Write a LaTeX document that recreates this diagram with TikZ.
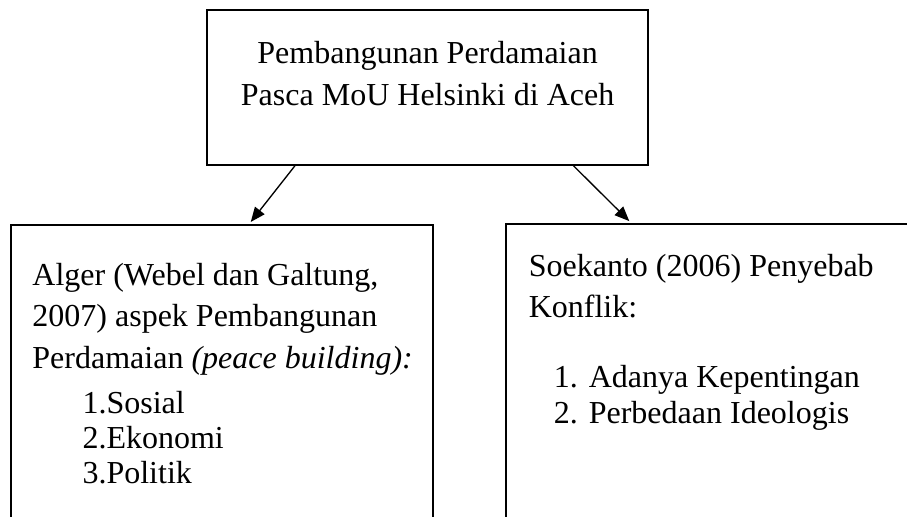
\documentclass[tikz,border=0pt]{standalone}
\usepackage{fontspec}
\setmainfont{Liberation Serif}
\usetikzlibrary{arrows.meta}

\begin{document}
\begin{tikzpicture}[
        box/.style={draw, line width=0.8pt, inner sep=0pt},
        txt/.style={anchor=base west, inner sep=0pt, align=left},
        link/.style={-{Triangle[length=5.5pt, width=4.5pt]}, line width=0.5pt, shorten >=1pt}
    ]
        \useasboundingbox (0, 0) rectangle (11.95, -6.80);

        \node[box, minimum width=5.81cm, minimum height=2.04cm] at (5.635, -1.15) (top) {};
        \node[box, minimum width=5.56cm, minimum height=4.4cm] at (2.926, -5.166) (alger) {};
        \node[box, minimum width=5.70cm, minimum height=4.4cm] at (9.52, -5.152) (soekanto) {};

        % base anchor sits on the last line
        \node[anchor=base, inner sep=0pt, align=center, font={\fontsize{12}{15.75}\selectfont}] at (5.634, -1.384) (judul)
            {Pembangunan Perdamaian\\Pasca MoU Helsinki di Aceh};

        \node[txt, font={\fontsize{12}{15.56}\selectfont}] at (0.42, -4.85) (aspek)
            {Alger (Webel dan Galtung,\\2007) aspek Pembangunan\\Perdamaian \textit{(peace building):}};
        \node[txt, font={\fontsize{12}{13.1}\selectfont}] at (1.08, -6.366) (aspek-list)
            {1.Sosial\\2.Ekonomi\\3.Politik};

        \node[txt, font={\fontsize{12}{15.4}\selectfont}] at (6.96, -4.178) (sebab)
            {Soekanto (2006) Penyebab\\Konflik:};
        \node[txt, font={\fontsize{12}{13.5}\selectfont}] at (7.29, -5.575) (sebab-list)
            {\makebox[13.1pt][l]{1.}Adanya Kepentingan\\\makebox[13.1pt][l]{2.}Perbedaan Ideologis};

        \draw[link] ([xshift=1.17cm]top.south west) to ([xshift=3.15cm]alger.north west);
        \draw[link] ([xshift=4.84cm]top.south west) to ([xshift=1.66cm]soekanto.north west);
    \end{tikzpicture}
\end{document}
